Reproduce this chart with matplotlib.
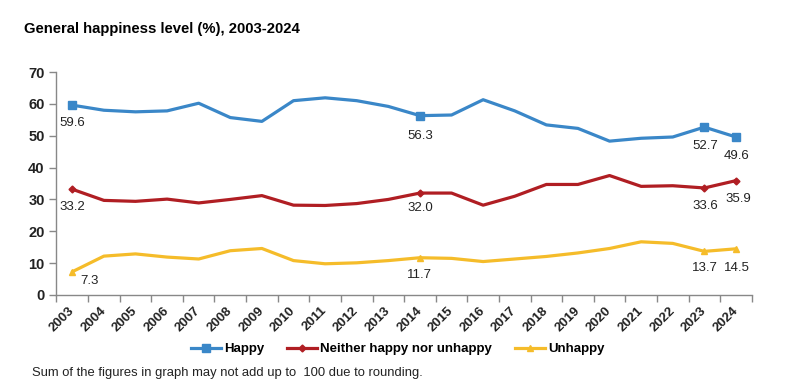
import matplotlib
matplotlib.use("Agg")
import matplotlib.pyplot as plt
from matplotlib.lines import Line2D

plt.rcParams['font.family'] = ['Liberation Sans', 'DejaVu Sans']

years = [str(y) for y in range(2003, 2025)]
happy = [59.6, 58.0, 57.5, 57.8, 60.2, 55.7, 54.5, 61.0, 61.9, 61.0, 59.2,
         56.3, 56.5, 61.3, 57.8, 53.4, 52.3, 48.3, 49.2, 49.6, 52.7, 49.6]
neither = [33.2, 29.7, 29.4, 30.1, 28.9, 30.0, 31.2, 28.2, 28.1, 28.7, 30.0,
           32.0, 32.0, 28.2, 31.0, 34.7, 34.7, 37.5, 34.1, 34.3, 33.6, 35.9]
unhappy = [7.3, 12.2, 12.9, 11.9, 11.3, 13.9, 14.6, 10.8, 9.8, 10.1, 10.8,
           11.7, 11.5, 10.5, 11.3, 12.1, 13.2, 14.6, 16.7, 16.2, 13.7, 14.5]
series_names = ["Happy", "Neither happy nor unhappy", "Unhappy"]
labeled_years = ["2003", "2014", "2023", "2024"]

colors = ["#3a87c8", "#b01e23", "#f5bc2a"]
markers = ["s", "D", "^"]
msizes = [6, 3.5, 4.5]

fig = plt.figure(figsize=(8.08, 3.88), dpi=100)
ax = fig.add_axes([0.0699, 0.2397, 0.8605, 0.5747])

x = list(range(len(years)))
all_series = [happy, neither, unhappy]
for vals, c, m, ms, name in zip(all_series, colors, markers, msizes, series_names):
    ax.plot(x, vals, color=c, lw=2.3, solid_capstyle='round', zorder=3)
    idx = [years.index(y) for y in labeled_years]
    ax.plot(idx, [vals[i] for i in idx], ls='none', marker=m, ms=ms, color=c, zorder=4)

# data label offsets in pixels (dx, dy)
offsets = {
    0: {"2003": (0, -18), "2014": (0, -20), "2023": (1, -19), "2024": (1, -19)},
    1: {"2003": (0, -18), "2014": (0, -15), "2023": (1, -18), "2024": (2, -18)},
    2: {"2003": (17, -9), "2014": (0, -17), "2023": (1, -17), "2024": (1, -19)},
}
for si, vals in enumerate(all_series):
    for yr in labeled_years:
        i = years.index(yr)
        dx, dy = offsets[si][yr]
        ax.annotate(f"{vals[i]:.1f}", (i, vals[i]), xytext=(dx * 0.72, dy * 0.72),
                    textcoords='offset points', ha='center', va='center',
                    fontsize=9.5, color='#222222')

ax.set_xlim(-0.5, len(years) - 0.5)
ax.set_ylim(0, 70)
ax.set_yticks(range(0, 71, 10))
ax.set_xticks(x)
ax.set_xticklabels(years, rotation=45, ha='right', va='center', rotation_mode='anchor',
                   fontsize=9.5, fontweight='bold', color='#222222')
ax.set_xticks([i - 0.5 for i in range(len(years) + 1)], minor=True)
ax.tick_params(axis='x', which='major', length=0, pad=10)
ax.tick_params(axis='x', which='minor', length=5, color='#888888', width=1)
ax.tick_params(axis='y', length=5, color='#888888', width=1, labelsize=10.5)
for lab in ax.get_yticklabels():
    lab.set_fontweight('bold')
    lab.set_color('#222222')
for s in ['top', 'right']:
    ax.spines[s].set_visible(False)
for s in ['left', 'bottom']:
    ax.spines[s].set_color('#888888')
    ax.spines[s].set_linewidth(1)

handles = [Line2D([0], [0], color=c, lw=2.3, marker=m, ms=ms)
           for c, m, ms in zip(colors, markers, msizes)]
fig.legend(handles, series_names, loc='center', bbox_to_anchor=(0.492, 0.1005), ncol=3,
           frameon=False, handlelength=2.3, handletextpad=0.2, columnspacing=1.75,
           prop={'weight': 'bold', 'size': 9.5})

fig.text(0.03, 0.925, "General happiness level (%), 2003-2024", fontsize=10.7,
         fontweight='bold', ha='left', va='center')
fig.text(0.04, 0.038, "Sum of the figures in graph may not add up to  100 due to rounding.",
         fontsize=9.4, ha='left', va='center', color='#222222')

fig.savefig("out.png", dpi=100, facecolor='white')
